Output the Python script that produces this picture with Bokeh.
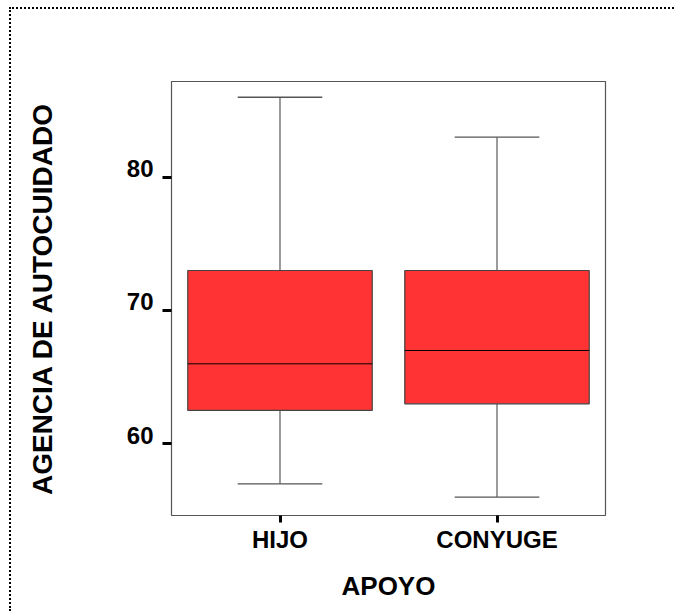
from bokeh.plotting import figure
from bokeh.models import ColumnDataSource, FixedTicker, LinearAxis, Range1d
from bokeh.transform import dodge
from bokeh.embed import file_html
from bokeh.resources import INLINE

# data
categories = ["HIJO", "CONYUGE"]
q1 = [62.5, 63.0]
median = [66.0, 67.0]
q3 = [73.0, 73.0]
lower = [57.0, 56.0]
upper = [86.0, 83.0]
y_ticks = [60, 70, 80]

FONT = "Liberation Sans"
Y0, Y1 = 54.62, 87.18
LABEL_LIFT = 0.65  # tick labels sit just above their tick marks

src = ColumnDataSource(dict(cat=categories, q1=q1, median=median, q3=q3,
                            lower=lower, upper=upper))

p = figure(x_range=categories, y_range=Range1d(Y0, Y1),
           width=665, height=604, output_backend="svg", toolbar_location=None,
           min_border_left=160, min_border_right=71, min_border_top=72,
           min_border_bottom=98)
p.styles = {"margin-left": "9px", "margin-top": "7px",
            "border-left": "2px dotted #000", "border-top": "2px dotted #000"}
p.extra_y_ranges = {"lbl": Range1d(Y0 - LABEL_LIFT, Y1 - LABEL_LIFT)}

p.xgrid.grid_line_color = None
p.ygrid.grid_line_color = None
p.outline_line_color = "#555555"
p.outline_line_width = 1.2

# whisker stems
p.segment(x0="cat", x1="cat", y0="q3", y1="upper", source=src,
          line_color="#666666", line_width=1.3)
p.segment(x0="cat", x1="cat", y0="q1", y1="lower", source=src,
          line_color="#666666", line_width=1.3)
# caps
cap = 0.195
for col in ("upper", "lower"):
    p.segment(x0=dodge("cat", -cap, range=p.x_range), x1=dodge("cat", cap, range=p.x_range),
              y0=col, y1=col, source=src, line_color="#555555", line_width=1.3)

# boxes
p.vbar(x="cat", width=0.85, bottom="q1", top="q3", source=src,
       fill_color="#FF3333", line_color="#444444", line_width=1.2)
# median
bw = 0.425
p.segment(x0=dodge("cat", -bw, range=p.x_range), x1=dodge("cat", bw, range=p.x_range),
          y0="median", y1="median", source=src, line_color="#000000", line_width=1)

def style(ax):
    ax.axis_line_color = None
    ax.minor_tick_line_color = None
    ax.major_tick_line_color = "#000000"
    ax.major_tick_line_width = 3
    ax.major_tick_in = 0
    ax.major_label_text_font = FONT
    ax.major_label_text_font_style = "bold"
    ax.major_label_text_font_size = "24px"
    ax.major_label_text_color = "#000000"
    ax.axis_label_text_font = FONT
    ax.axis_label_text_font_style = "bold"
    ax.axis_label_text_font_size = "26px"
    ax.axis_label_text_color = "#000000"

style(p.xaxis[0])
style(p.yaxis[0])

p.xaxis.major_tick_out = 7
p.xaxis.major_label_standoff = 3
p.xaxis.axis_label = "APOYO"
p.xaxis.axis_label_standoff = 15

# tick marks only
p.yaxis.ticker = FixedTicker(ticks=y_ticks)
p.yaxis.major_tick_out = 9
p.yaxis.major_label_standoff = 0
p.yaxis.major_label_text_color = None

# tick labels + axis title, set slightly above the tick marks
lab_axis = LinearAxis(y_range_name="lbl", ticker=FixedTicker(ticks=y_ticks))
style(lab_axis)
lab_axis.major_tick_out = 0
lab_axis.major_tick_line_color = None
lab_axis.major_label_standoff = 9
lab_axis.axis_label = "AGENCIA DE AUTOCUIDADO"
lab_axis.axis_label_text_font_size = "28px"
lab_axis.axis_label_standoff = 66
p.add_layout(lab_axis, "left")

open("out.html", "w").write(file_html(p, INLINE))
